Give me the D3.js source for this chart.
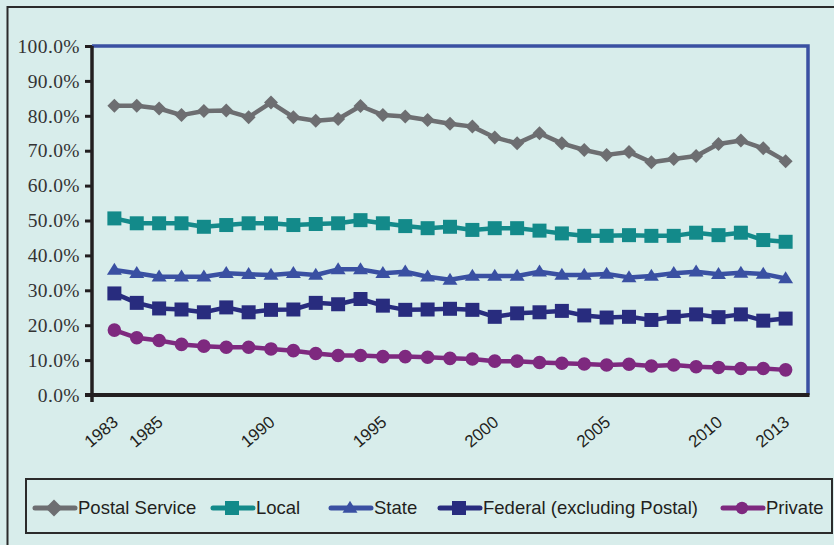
<!DOCTYPE html>
<html>
<head>
<meta charset="utf-8">
<script src="https://cdn.jsdelivr.net/npm/d3@7"></script>
<style>
  body { margin: 0; background: #d8edeb; }
  svg { display: block; }
</style>
</head>
<body>
<div id="chart"></div>
<script>
// data (percent)
var years = [1983, 1984, 1985, 1986, 1987, 1988, 1989, 1990, 1991, 1992, 1993, 1994, 1995, 1996, 1997, 1998,
             1999, 2000, 2001, 2002, 2003, 2004, 2005, 2006, 2007, 2008, 2009, 2010, 2011, 2012, 2013];
var postal = [82.9, 82.9, 82.1, 80.2, 81.4, 81.5, 79.6, 83.8, 79.6, 78.6, 79.1, 82.8, 80.2, 79.8, 78.8, 77.7,
              76.9, 73.8, 72.1, 75.0, 72.1, 70.2, 68.8, 69.6, 66.7, 67.6, 68.5, 71.9, 72.9, 70.7, 67.0];
var local = [50.6, 49.2, 49.2, 49.2, 48.2, 48.7, 49.2, 49.2, 48.7, 49.0, 49.2, 50.1, 49.2, 48.4, 47.8, 48.2,
             47.3, 47.8, 47.8, 47.1, 46.3, 45.6, 45.6, 45.8, 45.6, 45.6, 46.5, 45.8, 46.5, 44.4, 43.9];
var state = [35.8, 34.9, 33.9, 33.9, 33.9, 34.9, 34.6, 34.4, 34.9, 34.4, 36.0, 36.0, 34.9, 35.3, 33.9, 33.0,
             34.1, 34.1, 34.1, 35.3, 34.4, 34.4, 34.7, 33.7, 34.1, 34.9, 35.3, 34.6, 35.0, 34.7, 33.4];
var federal = [29.1, 26.4, 24.8, 24.5, 23.7, 25.1, 23.7, 24.4, 24.5, 26.4, 26.0, 27.5, 25.6, 24.4, 24.5, 24.7,
               24.4, 22.4, 23.4, 23.7, 24.1, 22.8, 22.2, 22.4, 21.5, 22.4, 23.1, 22.3, 23.1, 21.3, 21.9];
var priv = [18.6, 16.4, 15.6, 14.5, 14.0, 13.7, 13.7, 13.2, 12.7, 11.9, 11.3, 11.3, 11.0, 11.0, 10.8, 10.5,
            10.3, 9.7, 9.7, 9.3, 9.1, 8.9, 8.6, 8.8, 8.3, 8.6, 8.1, 7.9, 7.6, 7.6, 7.2];

var seriesNames = ["Postal Service", "Local", "State", "Federal (excluding Postal)", "Private"];
var seriesColors = ["#6d6e71", "#138a8a", "#3a50a2", "#282c7e", "#7e297f"];
var seriesShapes = ["diamond", "square", "triangle", "square", "circle"];
var seriesValues = [postal, local, state, federal, priv];

var yTicks = [0, 10, 20, 30, 40, 50, 60, 70, 80, 90, 100];
var xLabels = [1983, 1985, 1990, 1995, 2000, 2005, 2010, 2013];

var W = 834, H = 545;
var margin = {top: 46, right: 26, bottom: 150, left: 92};
var innerW = W - margin.left - margin.right,
    innerH = H - margin.top - margin.bottom;

var svg = d3.select("#chart").append("svg")
  .attr("width", W)
  .attr("height", H);

svg.append("rect").attr("width", W).attr("height", H).attr("fill", "#d8edeb");

// outer frame (top + left)
svg.append("path")
  .attr("d", "M7.5,545V7H834")
  .attr("fill", "none")
  .attr("stroke", "#2b2b2b")
  .attr("stroke-width", 2);

var g = svg.append("g")
  .attr("transform", "translate(" + margin.left + "," + margin.top + ")");

var x = d3.scaleLinear().domain([1982, 2014]).range([0, innerW]);
var y = d3.scaleLinear().domain([0, 100]).range([innerH, 0]);

// plot border: blue on top and right
g.append("path")
  .attr("d", "M0,0H" + innerW + "V" + innerH)
  .attr("fill", "none")
  .attr("stroke", "#3a50a2")
  .attr("stroke-width", 3.5);

// y axis
var yAxis = g.append("g")
  .call(d3.axisLeft(y).tickValues(yTicks).tickSize(7).tickPadding(5)
    .tickFormat(function (d) { return d.toFixed(1) + "%"; }));
yAxis.select(".domain").remove();
yAxis.selectAll(".tick line").attr("stroke", "#231f20").attr("stroke-width", 3);
yAxis.selectAll(".tick text")
  .attr("fill", "#333")
  .style("font-family", "'Liberation Serif', 'DejaVu Serif', serif")
  .style("font-size", "19.5px")
  .style("letter-spacing", "0.4px");

// axis lines
g.append("line")
  .attr("x1", 0).attr("x2", 0).attr("y1", 0).attr("y2", innerH + 7)
  .attr("stroke", "#231f20").attr("stroke-width", 3.5);
g.append("line")
  .attr("x1", -7).attr("x2", innerW + 1.5).attr("y1", innerH).attr("y2", innerH)
  .attr("stroke", "#231f20").attr("stroke-width", 4);

// x labels
g.selectAll(".xlab")
  .data(xLabels)
  .enter()
  .append("text")
  .attr("class", "xlab")
  .attr("transform", function (d) {
    return "translate(" + (x(d) + 5) + "," + (innerH + 29) + ") rotate(-40)";
  })
  .attr("text-anchor", "end")
  .attr("fill", "#231f20")
  .style("font-family", "'Liberation Sans', Arial, sans-serif")
  .style("font-size", "17px")
  .text(function (d) { return d; });

// marker shapes
function markerPath(shape, s) {
  if (shape == "diamond") return "M0," + (-s) + "L" + s + ",0L0," + s + "L" + (-s) + ",0Z";
  if (shape == "square") return "M" + (-s) + "," + (-s) + "h" + (2 * s) + "v" + (2 * s) + "h" + (-2 * s) + "Z";
  if (shape == "triangle") {
    var h = s * 1.6;
    return "M0," + (-h * 0.6) + "L" + s + "," + (h * 0.4) + "L" + (-s) + "," + (h * 0.4) + "Z";
  }
  return d3.symbol().type(d3.symbolCircle).size(Math.PI * s * s)();
}
var plotSize = {diamond: 7, square: 7, triangle: 7.5, circle: 6.8};
var legendSize = {diamond: 8.5, square: 7, triangle: 7.5, circle: 6.2};

var line = d3.line()
  .x(function (d, i) { return x(years[i]); })
  .y(function (d) { return y(d); });

seriesValues.forEach(function (vals, k) {
  var col = seriesColors[k];
  var shape = seriesShapes[k];
  g.append("path")
    .datum(vals)
    .attr("d", line)
    .attr("fill", "none")
    .attr("stroke", col)
    .attr("stroke-width", 4.5)
    .attr("stroke-linejoin", "round");
  g.selectAll(".m" + k)
    .data(vals)
    .enter()
    .append("path")
    .attr("class", "m" + k)
    .attr("transform", function (d, i) { return "translate(" + x(years[i]) + "," + y(d) + ")"; })
    .attr("d", markerPath(shape, plotSize[shape]))
    .attr("fill", col);
});

// legend
var legendX = [35, 213, 331, 440, 723];
var legend = svg.append("g");
legend.append("rect")
  .attr("x", 26).attr("y", 479)
  .attr("width", 806).attr("height", 54)
  .attr("fill", "none")
  .attr("stroke", "#2b2b2b")
  .attr("stroke-width", 2);

seriesNames.forEach(function (name, k) {
  var item = legend.append("g").attr("transform", "translate(" + legendX[k] + ",508)");
  item.append("line")
    .attr("x1", 0).attr("x2", 40)
    .attr("stroke", seriesColors[k]).attr("stroke-width", 5).attr("stroke-linecap", "round");
  item.append("path")
    .attr("transform", "translate(19,0)")
    .attr("d", markerPath(seriesShapes[k], legendSize[seriesShapes[k]]))
    .attr("fill", seriesColors[k]);
  item.append("text")
    .attr("x", 43)
    .attr("dy", "0.35em")
    .attr("fill", "#231f20")
    .style("font-family", "'Liberation Sans', Arial, sans-serif")
    .style("font-size", "18.5px")
    .text(name);
});
</script>
</body>
</html>
